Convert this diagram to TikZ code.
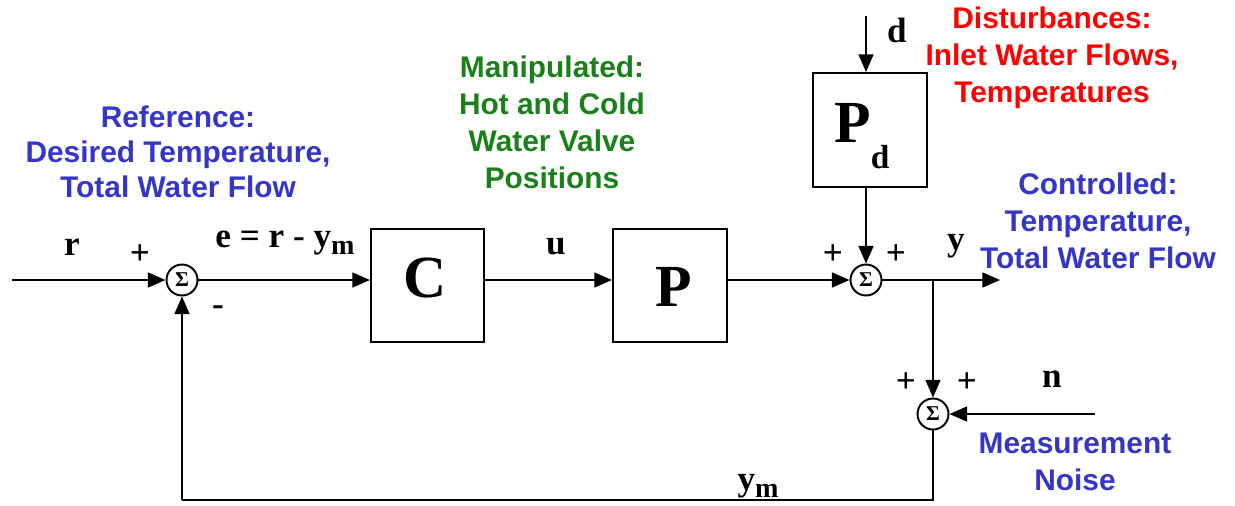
\documentclass[tikz,border=0pt]{standalone}
\usepackage{fontspec}
\setmainfont{Liberation Serif}
\newfontfamily\lsans{Liberation Sans}
\usetikzlibrary{arrows.meta}
\definecolor{refblue}{HTML}{3535C8}
\definecolor{mangreen}{HTML}{1A801A}
\definecolor{distred}{HTML}{FF0000}
\begin{document}
\begin{tikzpicture}[x=0.02cm,y=-0.02cm,
  sig/.style={line width=0.85pt,-{Triangle[length=10pt,width=8.5pt]}},
  wire/.style={line width=0.85pt},
  blk/.style={draw,line width=1.2pt,inner sep=0pt},
  sumnode/.style={circle,draw,line width=1.1pt,minimum size=0.62cm,inner sep=0pt,font=\bfseries\fontsize{12}{12}\selectfont},
  lbl/.style={font=\bfseries\fontsize{20}{22}\selectfont,inner sep=0pt},
  big/.style={font=\bfseries\fontsize{34}{34}\selectfont,inner sep=0pt},
  note/.style={font=\lsans\bfseries\fontsize{17}{21}\selectfont,align=center,inner sep=0pt}]
\useasboundingbox (0,0) rectangle (1235,505);
% nodes
\coordinate (in) at (12,280);
\node[sumnode] (s1) at (182,280) {Σ};
\node[blk,minimum width=2.26cm,minimum height=2.26cm] (C) at (427.5,285.5) {};
\node[big] (Ct) at (425.5,278) {C};
\node[blk,minimum width=2.28cm,minimum height=2.26cm] (P) at (670,285.5) {};
\node[big] (Pt) at (674,286.5) {P};
\node[blk,minimum width=2.28cm,minimum height=2.28cm] (Pd) at (870,130) {};
\node[big,anchor=base west] (Pdt) at (834,142) {P\raisebox{-15pt}{\fontsize{19}{19}\selectfont d}};
\coordinate (dstart) at (866,16);
\node[sumnode] (s2) at (866,280) {Σ};
\coordinate (br) at (933,280);
\coordinate (out) at (1000,280);
\node[sumnode] (s3) at (933,414) {Σ};
\coordinate (nstart) at (1095,414);
\coordinate (fb1) at (933,500);
\coordinate (fb2) at (182,500);
% connectors
\draw[sig] (in) -- (s1);
\draw[sig] (s1) -- (s1 -| C.west);
\draw[sig] (s1 -| C.east) -- (s1 -| P.west);
\draw[sig] (s1 -| P.east) -- (s2);
\draw[sig] (dstart) -- (dstart |- Pd.north);
\draw[sig] (dstart |- Pd.south) -- (s2);
\draw[wire] (s2) -- (br);
\draw[sig] (br) -- (out);
\draw[sig] (br) -- (s3);
\draw[sig] (nstart) -- (s3);
\draw[wire] (s3) -- (fb1) -- (fb2);
\draw[sig] (fb2) -- (s1);
% labels
\node[lbl] (lr) at (72,247) {r};
\node[lbl] (p1) at (140,255) {+};
\node[lbl,anchor=base] (le) at (285,247) {e = r - y\raisebox{-4pt}{\fontsize{16}{16}\selectfont m}};
\node[lbl] (m1) at (218,311) {-};
\node[lbl] (lu) at (556,247) {u};
\node[lbl] (ld) at (897,30) {d};
\node[lbl] (p2) at (833,255) {+};
\node[lbl] (p3) at (896,255) {+};
\node[lbl] (ly) at (956,246) {y};
\node[lbl] (p4) at (906,383) {+};
\node[lbl] (p5) at (967,383) {+};
\node[lbl] (ln) at (1052,379) {n};
\node[lbl,anchor=base] (lym) at (758,490) {y\raisebox{-4pt}{\fontsize{16}{16}\selectfont m}};
% notes
\node[note,text=refblue,font=\lsans\bfseries\fontsize{17}{19.8}\selectfont] (nref) at (178,152) {Reference:\\Desired Temperature,\\Total Water Flow};
\node[note,text=mangreen] (nman) at (552,122.5) {Manipulated:\\Hot and Cold\\Water Valve\\Positions};
\node[note,text=distred] (ndis) at (1052,57.5) {Disturbances:\\Inlet Water Flows,\\Temperatures};
\node[note,text=refblue] (nctl) at (1098,220.5) {Controlled:\\Temperature,\\Total Water Flow};
\node[note,text=refblue] (nnoise) at (1075,461.5) {Measurement\\Noise};
\end{tikzpicture}
\end{document}
